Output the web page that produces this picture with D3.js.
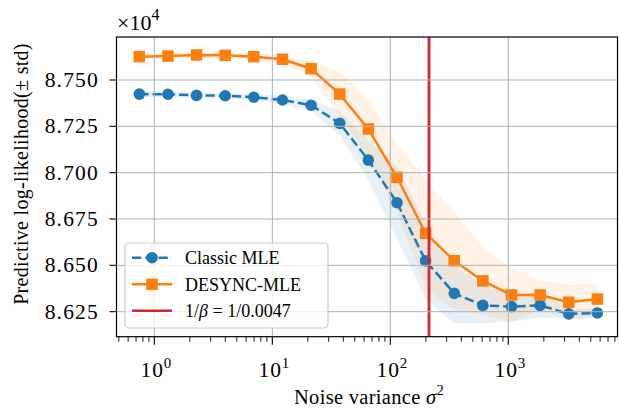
<!DOCTYPE html>
<html>
<head>
<meta charset="utf-8">
<script src="https://cdn.jsdelivr.net/npm/d3@7"></script>
<style>
  html, body { margin: 0; padding: 0; background: #ffffff; }
  svg { display: block; }
  text { font-family: "Liberation Serif", "Times New Roman", serif; fill: #000; }
</style>
</head>
<body>
<svg id="chart" width="619" height="408"></svg>
<script>
// ---- data ----
const noiseVariance = [0.746, 1.305, 2.281, 3.988, 6.972, 12.19, 21.31, 37.26, 65.14, 113.9, 199.1, 348.1, 608.5, 1064, 1860, 3251, 5683];
const classicMean = [87424, 87423, 87417, 87415, 87407, 87392, 87364, 87266, 87068, 86838, 86524, 86349, 86284, 86277, 86284, 86238, 86243];
const classicStd  = [16, 16, 16, 16, 16, 22, 32, 65, 108, 194, 205, 162, 97, 81, 65, 27, 27];
const desyncMean  = [87626, 87629, 87635, 87633, 87626, 87612, 87561, 87424, 87236, 86975, 86673, 86525, 86416, 86340, 86340, 86301, 86318];
const desyncStd   = [16, 16, 16, 16, 16, 22, 43, 119, 156, 183, 296, 264, 183, 146, 75, 97, 86];
const betaValue = 0.0047;
const yTickValues = [86250, 86500, 86750, 87000, 87250, 87500];
const xMajorTicks = [1, 10, 100, 1000];
const seriesNames = ["Classic MLE", "DESYNC-MLE"];

// ---- layout ----
const L = 116.5, R = 617.5, T = 37, B = 336.7;
const blue = "#1f77b4", orange = "#ff7f0e", red = "#d62728";

const svg = d3.select("#chart");
const x = d3.scaleLog().domain([0.478, 8422]).range([L, R]);
const y = d3.scaleLinear().domain([86115, 87732]).range([B, T]);

svg.append("defs").append("clipPath").attr("id", "clip")
  .append("rect").attr("x", L).attr("y", T).attr("width", R - L).attr("height", B - T);

const plot = svg.append("g").attr("clip-path", "url(#clip)");

// bands
function band(mean, std, color) {
  const area = d3.area()
    .x((d, i) => x(noiseVariance[i]))
    .y0((d, i) => y(mean[i] - std[i]))
    .y1((d, i) => y(mean[i] + std[i]));
  plot.append("path").datum(mean).attr("d", area)
    .attr("fill", color).attr("fill-opacity", 0.1).attr("stroke", "none");
}
band(classicMean, classicStd, blue);
band(desyncMean, desyncStd, orange);

// grid
const grid = svg.append("g");
xMajorTicks.forEach(v => {
  grid.append("line").attr("x1", x(v)).attr("x2", x(v)).attr("y1", T).attr("y2", B)
    .attr("stroke", "#b0b0b0").attr("stroke-width", 1);
});
yTickValues.forEach(v => {
  grid.append("line").attr("x1", L).attr("x2", R).attr("y1", y(v)).attr("y2", y(v))
    .attr("stroke", "#b0b0b0").attr("stroke-width", 1);
});

// lines
const lineGen = mean => d3.line().x((d, i) => x(noiseVariance[i])).y((d, i) => y(mean[i]))(mean);
plot.append("path").attr("d", lineGen(classicMean)).attr("fill", "none")
  .attr("stroke", blue).attr("stroke-width", 2.5).attr("stroke-dasharray", "9.25 4");
plot.selectAll(".cm").data(classicMean).enter().append("circle")
  .attr("cx", (d, i) => x(noiseVariance[i])).attr("cy", d => y(d)).attr("r", 5.8).attr("fill", blue);

plot.append("path").attr("d", lineGen(desyncMean)).attr("fill", "none")
  .attr("stroke", orange).attr("stroke-width", 2.5);
const sq = 11.5;
plot.selectAll(".dm").data(desyncMean).enter().append("rect")
  .attr("x", (d, i) => x(noiseVariance[i]) - sq / 2).attr("y", d => y(d) - sq / 2)
  .attr("width", sq).attr("height", sq).attr("fill", orange);

// vertical line
plot.append("line").attr("x1", x(1 / betaValue)).attr("x2", x(1 / betaValue))
  .attr("y1", T).attr("y2", B).attr("stroke", red).attr("stroke-width", 2.8);

// spines
svg.append("rect").attr("x", L).attr("y", T).attr("width", R - L).attr("height", B - T)
  .attr("fill", "none").attr("stroke", "#000").attr("stroke-width", 1.2);

// y ticks
const yAxis = svg.append("g");
yTickValues.forEach(v => {
  yAxis.append("line").attr("x1", L - 7).attr("x2", L).attr("y1", y(v)).attr("y2", y(v))
    .attr("stroke", "#000").attr("stroke-width", 1.1);
  yAxis.append("text").attr("x", 99).attr("y", y(v) + 7).attr("text-anchor", "end")
    .attr("font-size", 21.5).attr("letter-spacing", 1.2).text((v / 1e4).toFixed(3));
});

// x ticks
const xAxis = svg.append("g");
xMajorTicks.forEach((v, k) => {
  xAxis.append("line").attr("x1", x(v)).attr("x2", x(v)).attr("y1", B).attr("y2", B + 8)
    .attr("stroke", "#000").attr("stroke-width", 1.1);
  const t = xAxis.append("text").attr("x", x(v) + 2).attr("y", 377).attr("text-anchor", "middle")
    .attr("font-size", 21.5).attr("letter-spacing", 0.8);
  t.append("tspan").text("10");
  t.append("tspan").attr("dy", -9).attr("font-size", 15).text(String(k));
});
const minor = [];
[0.1, 1, 10, 100, 1000].forEach(dec => { for (let m = 2; m <= 9; m++) minor.push(dec * m); });
minor.filter(v => v >= x.domain()[0] && v <= x.domain()[1]).forEach(v => {
  xAxis.append("line").attr("x1", x(v)).attr("x2", x(v)).attr("y1", B).attr("y2", B + 5)
    .attr("stroke", "#000").attr("stroke-width", 0.9);
});

// axis labels
const xl = svg.append("text").attr("x", (L + R) / 2 + 2).attr("y", 404).attr("text-anchor", "middle")
  .attr("font-size", 20.5).attr("letter-spacing", 0.3);
xl.append("tspan").text("Noise variance ");
xl.append("tspan").attr("font-style", "italic").text("σ");
xl.append("tspan").attr("dy", -9).attr("font-size", 14.5).text("2");

svg.append("text").attr("transform", "translate(28,174) rotate(-90)").attr("text-anchor", "middle")
  .attr("font-size", 20).attr("letter-spacing", 0.3).text("Predictive log-likelihood(± std)");

// offset label
const ol = svg.append("text").attr("x", 117).attr("y", 30).attr("font-size", 22);
ol.append("tspan").text("×10");
ol.append("tspan").attr("dy", -10).attr("font-size", 16).text("4");

// legend
const lg = svg.append("g");
lg.append("rect").attr("x", 125).attr("y", 243).attr("width", 203).attr("height", 85).attr("rx", 4)
  .attr("fill", "#fff").attr("fill-opacity", 0.8).attr("stroke", "#cccccc").attr("stroke-width", 1.2);
const ly = [257.7, 284.3, 310.7];
lg.append("line").attr("x1", 132).attr("x2", 172).attr("y1", ly[0]).attr("y2", ly[0])
  .attr("stroke", blue).attr("stroke-width", 2.5).attr("stroke-dasharray", "9.25 4");
lg.append("circle").attr("cx", 152).attr("cy", ly[0]).attr("r", 5.8).attr("fill", blue);
lg.append("line").attr("x1", 132).attr("x2", 172).attr("y1", ly[1]).attr("y2", ly[1])
  .attr("stroke", orange).attr("stroke-width", 2.5);
lg.append("rect").attr("x", 152 - sq / 2).attr("y", ly[1] - sq / 2).attr("width", sq).attr("height", sq).attr("fill", orange);
lg.append("line").attr("x1", 132).attr("x2", 172).attr("y1", ly[2]).attr("y2", ly[2])
  .attr("stroke", red).attr("stroke-width", 2.5);
lg.append("text").attr("x", 185).attr("y", ly[0] + 6.5).attr("font-size", 18).text(seriesNames[0]);
lg.append("text").attr("x", 185).attr("y", ly[1] + 6.5).attr("font-size", 18).text(seriesNames[1]);
const bt = lg.append("text").attr("x", 185).attr("y", ly[2] + 6.5).attr("font-size", 18);
bt.append("tspan").text("1/");
bt.append("tspan").attr("font-style", "italic").text("β");
bt.append("tspan").text(" = 1/" + betaValue);
</script>
</body>
</html>
